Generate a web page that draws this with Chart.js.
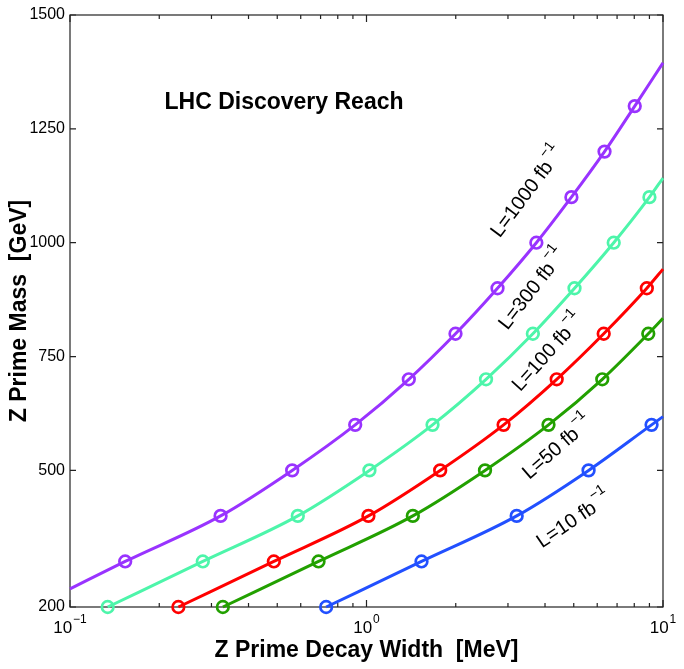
<!DOCTYPE html>
<html>
<head>
<meta charset="utf-8">
<script src="https://cdn.jsdelivr.net/npm/chart.js@4.4.1/dist/chart.umd.min.js"></script>
<style>
  body { margin: 0; background: #fff; }
  #wrap { width: 684px; height: 669px; }
</style>
</head>
<body>
<div id="wrap"><canvas id="myChart" width="684" height="669"></canvas></div>
<script>
// decay width [MeV] vs Z' mass [GeV], one curve per luminosity
let seriesNames = ['L=1000 fb', 'L=300 fb', 'L=100 fb', 'L=50 fb', 'L=10 fb'];

let widthL1000 = [0.1, 0.1535, 0.322, 0.5615, 0.916, 1.389, 1.996, 2.766, 3.74, 4.91, 6.35, 8.03, 10];
let massL1000 = [240, 300, 400, 500, 600, 700, 800, 900, 1000, 1100, 1200, 1300, 1395];

let widthL300 = [0.134, 0.2805, 0.5865, 1.023, 1.67, 2.53, 3.64, 5.03, 6.82, 9.0, 10];
let massL300 = [200, 300, 400, 500, 600, 700, 800, 900, 1000, 1100, 1142];

let widthL100 = [0.232, 0.487, 1.015, 1.772, 2.90, 4.38, 6.31, 8.82, 10];
let massL100 = [200, 300, 400, 500, 600, 700, 800, 900, 942];

let widthL50 = [0.3277, 0.689, 1.433, 2.51, 4.11, 6.24, 8.92, 10];
let massL50 = [200, 300, 400, 500, 600, 700, 800, 834];

let widthL10 = [0.731, 1.533, 3.21, 5.61, 9.15, 10];
let massL10 = [200, 300, 400, 500, 600, 618];

let yTicks = [200, 500, 750, 1000, 1250, 1500];
let xMajor = [0.1, 1, 10];
let xExponents = ['\u22121', '0', '1'];

let colors = ['#9933ff', '#4df5aa', '#ff0000', '#22a000', '#2250ff'];

// where the rotated curve labels sit (data coords) and their angle
let labelSpots = [
    { x: 3.41, y: 1116, angle: -53 },
    { x: 3.55, y: 903, angle: -52 },
    { x: 4.01, y: 764, angle: -48 },
    { x: 4.33, y: 556, angle: -41 },
    { x: 4.93, y: 398, angle: -34 }
];

let widths = [widthL1000, widthL300, widthL100, widthL50, widthL10];
let masses = [massL1000, massL300, massL100, massL50, massL10];

function makeData(w, m) {
    let pts = [];
    for (let i = 0; i < w.length; i++) {
        pts.push({ x: w[i], y: m[i] });
    }
    return pts;
}

let datasets = [];
for (let i = 0; i < widths.length; i++) {
    datasets.push({
        label: seriesNames[i],
        data: makeData(widths[i], masses[i]),
        borderColor: colors[i],
        backgroundColor: colors[i],
        borderWidth: 3,
        pointBorderColor: colors[i],
        pointBackgroundColor: 'rgba(0,0,0,0)',
        pointBorderWidth: 2.7,
        pointRadius: ctx => (ctx.raw && ctx.raw.y % 100 === 0) ? 5.8 : 0,
        cubicInterpolationMode: 'monotone',
        clip: false
    });
}

let FONT = '"Liberation Sans", Arial, sans-serif';

// box, inward ticks, x tick labels with exponents
let framePlugin = {
    id: 'frame',
    beforeDatasetsDraw(chart) {
        let ctx = chart.ctx;
        let a = chart.chartArea;
        let xs = chart.scales.x;
        let ys = chart.scales.y;
        ctx.save();
        ctx.strokeStyle = '#222';
        ctx.lineWidth = 1.2;
        ctx.strokeRect(a.left, a.top, a.right - a.left, a.bottom - a.top);
        ctx.beginPath();
        for (let d = 0.1; d < 10; d *= 10) {
            for (let k = 1; k <= 10; k++) {
                let v = d * k;
                if (v > 10.0001) break;
                let px = xs.getPixelForValue(v);
                let len = (k === 1 || k === 10) ? 7 : 4;
                ctx.moveTo(px, a.bottom); ctx.lineTo(px, a.bottom - len);
                ctx.moveTo(px, a.top); ctx.lineTo(px, a.top + len);
            }
        }
        for (let i = 0; i < yTicks.length; i++) {
            let py = ys.getPixelForValue(yTicks[i]);
            ctx.moveTo(a.left, py); ctx.lineTo(a.left + 6, py);
            ctx.moveTo(a.right, py); ctx.lineTo(a.right - 6, py);
        }
        ctx.stroke();

        ctx.fillStyle = '#000';
        ctx.textBaseline = 'middle';
        ctx.textAlign = 'left';
        for (let i = 0; i < xMajor.length; i++) {
            let px = xs.getPixelForValue(xMajor[i]);
            ctx.font = '17px ' + FONT;
            let w = ctx.measureText('10').width;
            ctx.font = '12px ' + FONT;
            let we = ctx.measureText(xExponents[i]).width;
            let x0 = px - (w + we + 1) / 2;
            ctx.font = '17px ' + FONT;
            ctx.fillText('10', x0, a.bottom + 21);
            ctx.font = '12px ' + FONT;
            ctx.fillText(xExponents[i], x0 + w + 1, a.bottom + 13);
        }
        ctx.restore();
    },
    afterDraw(chart) {
        let ctx = chart.ctx;
        let xs = chart.scales.x;
        let ys = chart.scales.y;
        ctx.save();
        ctx.fillStyle = '#000';
        ctx.textBaseline = 'middle';

        ctx.font = 'bold 23px ' + FONT;
        ctx.textAlign = 'center';
        ctx.fillText('LHC Discovery Reach', xs.getPixelForValue(0.527), ys.getPixelForValue(1307));

        for (let i = 0; i < labelSpots.length; i++) {
            let s = labelSpots[i];
            ctx.save();
            ctx.translate(xs.getPixelForValue(s.x), ys.getPixelForValue(s.y));
            ctx.rotate(s.angle * Math.PI / 180);
            ctx.font = '20px ' + FONT;
            let w1 = ctx.measureText(seriesNames[i]).width;
            ctx.font = '14px ' + FONT;
            let w2 = ctx.measureText('\u22121').width;
            let x0 = -(w1 + w2 + 2) / 2;
            ctx.textAlign = 'left';
            ctx.font = '20px ' + FONT;
            ctx.fillText(seriesNames[i], x0, 4);
            ctx.font = '14px ' + FONT;
            ctx.fillText('\u22121', x0 + w1 + 2, -6);
            ctx.restore();
        }
        ctx.restore();
    }
};

let ctx = document.getElementById('myChart').getContext('2d');
let myChart = new Chart(ctx, {
    type: 'line',
    data: { datasets: datasets },
    options: {
        responsive: false,
        animation: false,
        layout: { padding: { top: 15, right: 21, left: 0, bottom: 0 } },
        plugins: {
            legend: { display: false },
            tooltip: { enabled: false }
        },
        scales: {
            x: {
                type: 'logarithmic',
                min: 0.1,
                max: 10,
                grid: { display: false, drawTicks: false },
                border: { display: false },
                ticks: { display: false },
                title: {
                    display: true,
                    text: 'Z Prime Decay Width  [MeV]',
                    color: '#000',
                    font: { family: FONT, size: 23, weight: 'bold' },
                    padding: { top: 0, bottom: 5 }
                },
                afterFit(s) { s.height = 62; }
            },
            y: {
                type: 'linear',
                min: 200,
                max: 1500,
                grid: { display: false, drawTicks: false },
                border: { display: false },
                afterBuildTicks(s) { s.ticks = yTicks.map(v => ({ value: v })); },
                ticks: {
                    color: '#000',
                    padding: 5,
                    font: { family: FONT, size: 16 },
                    callback: v => String(v)
                },
                title: {
                    display: true,
                    text: 'Z Prime Mass  [GeV]',
                    color: '#000',
                    font: { family: FONT, size: 23, weight: 'bold' },
                    padding: { top: 6, bottom: 0 }
                },
                afterFit(s) { s.width = 70; }
            }
        }
    },
    plugins: [framePlugin]
});
</script>
</body>
</html>
